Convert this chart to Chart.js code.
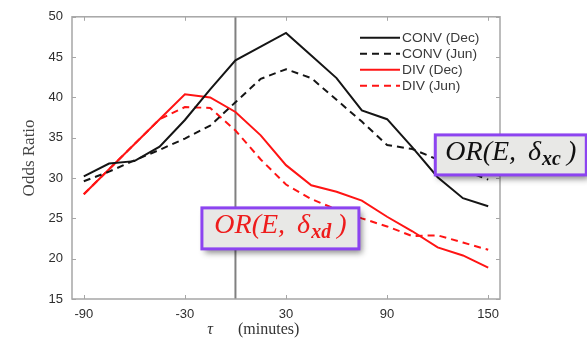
<!DOCTYPE html>
<html>
<head>
<meta charset="utf-8">
<title>Odds Ratio vs tau</title>
<script src="https://cdn.jsdelivr.net/npm/chart.js@4.4.0/dist/chart.umd.min.js"></script>
<style>
  html, body { margin: 0; padding: 0; background: #fff; }
  #oddsChart { display: block; }
</style>
</head>
<body>
<canvas id="oddsChart" width="587" height="338"></canvas>
<script>
// lag tau in minutes, one sample every 15 min
const tau = [-90, -75, -60, -45, -30, -15, 0, 15, 30, 45, 60, 75, 90, 105, 120, 135, 150];

const convDec = [30.2, 31.8, 32.1, 33.9, 37.2, 41.0, 44.6, 46.3, 48.0, 45.2, 42.4, 38.4, 37.3, 33.8, 30.1, 27.5, 26.5];
const convJun = [29.6, 30.8, 32.2, 33.5, 34.9, 36.5, 39.4, 42.3, 43.5, 42.4, 39.7, 37.0, 34.1, 33.6, 32.3, 31.0, 29.8];
const divDec  = [28.0, 31.1, 34.2, 37.3, 40.4, 40.0, 38.2, 35.3, 31.6, 29.1, 28.3, 27.2, 25.2, 23.4, 21.4, 20.4, 18.9];
const divJun  = [28.0, 31.1, 34.2, 37.3, 38.8, 38.7, 35.9, 32.3, 29.2, 27.4, 26.1, 25.0, 24.0, 22.8, 22.9, 22.0, 21.1];

const seriesNames = ["CONV (Dec)", "CONV (Jun)", "DIV (Dec)", "DIV (Jun)"];
const xTicks = [-90, -30, 30, 90, 150];

const AXIS_GREY = "#a6a6a6";
const TICK_FONT = { family: "'Liberation Sans', Arial, sans-serif", size: 13 };

const toPoints = vals => vals.map((v, i) => ({ x: tau[i], y: v }));

function series(label, vals, color, dashed) {
  return {
    label,
    data: toPoints(vals),
    borderColor: color,
    backgroundColor: color,
    borderWidth: 2,
    borderDash: dashed ? [7, 5] : [],
    pointRadius: 0,
    tension: 0,
    fill: false
  };
}

// tau = 0 reference line, under the curves
const zeroLine = {
  id: "zeroLine",
  beforeDatasetsDraw(chart) {
    const { ctx, chartArea, scales } = chart;
    const x = scales.x.getPixelForValue(0);
    ctx.save();
    ctx.strokeStyle = "#808080";
    ctx.lineWidth = 2;
    ctx.beginPath();
    ctx.moveTo(x, chartArea.top);
    ctx.lineTo(x, chartArea.bottom);
    ctx.stroke();
    ctx.restore();
  }
};

// box round the axes with inward ticks on all four sides
const axesBox = {
  id: "axesBox",
  afterDraw(chart) {
    const { ctx, chartArea: a, scales } = chart;
    const len = 4;
    ctx.save();
    ctx.strokeStyle = AXIS_GREY;
    ctx.lineWidth = 1.5;
    ctx.strokeRect(a.left, a.top, a.right - a.left, a.bottom - a.top);
    ctx.lineWidth = 1;
    ctx.beginPath();
    scales.x.ticks.forEach(t => {
      const x = Math.round(scales.x.getPixelForValue(t.value)) + 0.5;
      ctx.moveTo(x, a.bottom); ctx.lineTo(x, a.bottom - len);
      ctx.moveTo(x, a.top);    ctx.lineTo(x, a.top + len);
    });
    scales.y.ticks.forEach(t => {
      const y = Math.round(scales.y.getPixelForValue(t.value)) + 0.5;
      ctx.moveTo(a.left, y);  ctx.lineTo(a.left + len, y);
      ctx.moveTo(a.right, y); ctx.lineTo(a.right - len, y);
    });
    ctx.stroke();

    // x label: "τ     (minutes)"
    ctx.fillStyle = "#333";
    ctx.textBaseline = "alphabetic";
    ctx.textAlign = "center";
    ctx.font = "italic 16px 'Liberation Serif', serif";
    ctx.fillText("τ", a.left + 138, 334);
    ctx.textAlign = "left";
    ctx.font = "16px 'Liberation Serif', serif";
    ctx.fillText("(minutes)", a.left + 166, 334);
    ctx.restore();
  }
};

// legend in the upper right corner of the plot
const cornerLegend = {
  id: "cornerLegend",
  afterDraw(chart) {
    const { ctx, chartArea: a } = chart;
    ctx.save();
    chart.data.datasets.forEach((ds, i) => {
      const y = a.top + 21 + i * 16;
      ctx.strokeStyle = ds.borderColor;
      ctx.lineWidth = 2;
      ctx.setLineDash(ds.borderDash);
      ctx.beginPath();
      ctx.moveTo(a.right - 140, y);
      ctx.lineTo(a.right - 100, y);
      ctx.stroke();
      ctx.setLineDash([]);
      ctx.save();
      ctx.translate(a.right - 98, y);
      ctx.scale(1.15, 1);
      ctx.fillStyle = "#3a3a3a";
      ctx.font = "12px 'Liberation Sans', Arial, sans-serif";
      ctx.textBaseline = "middle";
      ctx.fillText(ds.label, 0, 1);
      ctx.restore();
    });
    ctx.restore();
  }
};

// OR(E, δ_sub) labels in grey boxes with a violet frame
function drawOrBox(ctx, left, top, w, h, color, sub) {
  ctx.save();
  ctx.shadowColor = "rgba(0,0,0,0.45)";
  ctx.shadowBlur = 6;
  ctx.shadowOffsetX = 3;
  ctx.shadowOffsetY = 4;
  ctx.fillStyle = "#e8e8e6";
  ctx.fillRect(left, top, w, h);
  ctx.shadowColor = "transparent";
  ctx.strokeStyle = "#8c44f0";
  ctx.lineWidth = 3;
  ctx.strokeRect(left, top, w, h);

  const main = "italic 28px 'Liberation Serif', serif";
  const small = "italic bold 20px 'Liberation Serif', serif";
  ctx.font = main;
  const w1 = ctx.measureText("OR(E,").width;
  const w2 = ctx.measureText("δ").width;
  const w4 = ctx.measureText(")").width;
  ctx.font = small;
  const w3 = ctx.measureText(sub).width;
  const gap = 12, subGap = 1, closeGap = 6;
  const total = w1 + gap + w2 + subGap + w3 + closeGap + w4;
  let x = left + (w - total) / 2;
  const base = top + 25;

  ctx.fillStyle = color;
  ctx.textBaseline = "alphabetic";
  ctx.font = main;
  ctx.fillText("OR(E,", x, base);
  x += w1 + gap;
  ctx.fillText("δ", x, base);
  x += w2 + subGap;
  ctx.font = small;
  ctx.fillText(sub, x, base + 5);
  x += w3 + closeGap;
  ctx.font = main;
  ctx.fillText(")", x, base);
  ctx.restore();
}

const orLabels = {
  id: "orLabels",
  afterDraw(chart) {
    const { ctx, scales } = chart;
    drawOrBox(ctx, scales.x.getPixelForValue(118.6), scales.y.getPixelForValue(35.35), 151, 40, "#111", "xc");
    drawOrBox(ctx, scales.x.getPixelForValue(-19.9), scales.y.getPixelForValue(26.3), 157, 41, "#ee1c1c", "xd");
  }
};

new Chart(document.getElementById("oddsChart"), {
  type: "line",
  data: {
    datasets: [
      series(seriesNames[0], convDec, "#151515", false),
      series(seriesNames[1], convJun, "#151515", true),
      series(seriesNames[2], divDec, "#ff1414", false),
      series(seriesNames[3], divJun, "#ff1414", true)
    ]
  },
  options: {
    responsive: false,
    devicePixelRatio: 1,
    animation: false,
    layout: { padding: { left: 0, right: 87, top: 13, bottom: 0 } },
    plugins: {
      legend: { display: false },
      tooltip: { enabled: false }
    },
    scales: {
      x: {
        type: "linear",
        min: -97,
        max: 157,
        afterBuildTicks: s => { s.ticks = xTicks.map(v => ({ value: v })); },
        afterFit: s => { s.height = 39; },
        grid: { display: false, drawTicks: false },
        border: { display: false },
        ticks: { padding: 8, color: "#2e2e2e", font: TICK_FONT, maxRotation: 0 }
      },
      y: {
        min: 15,
        max: 50,
        afterFit: s => { s.width = 72; },
        grid: { display: false, drawTicks: false },
        border: { display: false },
        ticks: { stepSize: 5, padding: 9, color: "#2e2e2e", font: TICK_FONT },
        title: {
          display: true,
          text: "Odds Ratio",
          color: "#444",
          font: { family: "'Liberation Serif', serif", size: 17 },
          padding: { top: 19, bottom: 0 }
        }
      }
    }
  },
  plugins: [zeroLine, axesBox, cornerLegend, orLabels]
});
</script>
</body>
</html>
